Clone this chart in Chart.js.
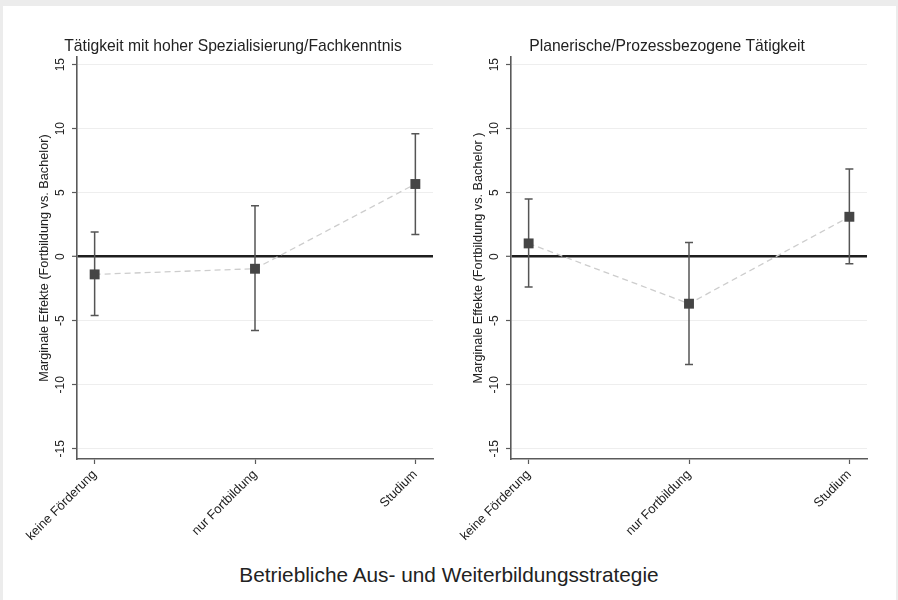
<!DOCTYPE html>
<html>
<head>
<meta charset="utf-8">
<script src="https://cdn.jsdelivr.net/npm/chart.js@4.4.1/dist/chart.umd.min.js"></script>
<style>
  html, body { margin:0; padding:0; background:#ececec; width:898px; height:600px; overflow:hidden; }
  #sheet { position:absolute; left:3px; top:6px; width:893px; height:594px; background:#ffffff; }
  canvas { position:absolute; top:0; }
  #c1 { left:0; }
  #c2 { left:434px; }
  #xtitle { position:absolute; left:0; width:898px; top:563px; text-align:center;
            font-family:"Liberation Sans", Arial, sans-serif; font-size:20.8px; color:#222; }
</style>
</head>
<body>
<div id="sheet"></div>
<canvas id="c1" width="434" height="560"></canvas>
<canvas id="c2" width="434" height="560"></canvas>
<div id="xtitle">Betriebliche Aus- und Weiterbildungsstrategie</div>
<script>
// ---- data ----
const categories = ['keine Förderung', 'nur Fortbildung', 'Studium'];
const yTicks = [-15, -10, -5, 0, 5, 10, 15];

const titleLeft = 'Tätigkeit mit hoher Spezialisierung/Fachkenntnis';
const estLeft = [-1.38, -0.94, 5.68];
const loLeft  = [-4.60, -5.76, 1.74];
const hiLeft  = [1.93, 3.98, 9.60];
const yTitleLeft = 'Marginale Effekte (Fortbildung vs. Bachelor)';

const titleRight = 'Planerische/Prozessbezogene Tätigkeit';
const estRight = [1.04, -3.67, 3.12];
const loRight  = [-2.37, -8.41, -0.55];
const hiRight  = [4.50, 1.12, 6.85];
const yTitleRight = 'Marginale Effekte (Fortbildung vs. Bachelor )';

const FONT = '"Liberation Sans", Arial, sans-serif';
const AXIS = '#5a5a5a';
const TXT = '#222222';

function makePanel(canvasId, title, yTitle, est, lo, hi) {
  const panelPlugin = {
    id: 'panel_' + canvasId,
    beforeDatasetsDraw(chart) {
      const ctx = chart.ctx, xs = chart.scales.x, ys = chart.scales.y;
      ctx.save();
      ctx.strokeStyle = '#555555';
      ctx.lineWidth = 1.5;
      for (let i = 0; i < est.length; i++) {
        const x = xs.getPixelForValue(i);
        const yl = ys.getPixelForValue(lo[i]);
        const yh = ys.getPixelForValue(hi[i]);
        ctx.beginPath();
        ctx.moveTo(x, yl); ctx.lineTo(x, yh);
        ctx.moveTo(x - 4, yl); ctx.lineTo(x + 4, yl);
        ctx.moveTo(x - 4, yh); ctx.lineTo(x + 4, yh);
        ctx.stroke();
      }
      ctx.restore();
    },
    afterDraw(chart) {
      const ctx = chart.ctx, ys = chart.scales.y, ca = chart.chartArea;
      ctx.save();
      ctx.fillStyle = TXT;
      ctx.font = '12px ' + FONT;
      ctx.textAlign = 'center';
      ctx.textBaseline = 'middle';
      yTicks.forEach(v => {
        const y = ys.getPixelForValue(v);
        ctx.save();
        ctx.translate(ca.left - 16, y);
        ctx.rotate(-Math.PI / 2);
        ctx.fillText(String(v), 0, 0);
        ctx.restore();
      });
      ctx.save();
      ctx.font = '12.7px ' + FONT;
      ctx.translate(ca.left - 33, (ca.top + ca.bottom) / 2);
      ctx.rotate(-Math.PI / 2);
      ctx.fillText(yTitle, 0, 0);
      ctx.restore();
      ctx.font = '15.7px ' + FONT;
      ctx.textBaseline = 'alphabetic';
      ctx.fillText(title, (ca.left + ca.right) / 2 - 22, ca.top - 6);
      ctx.restore();
    }
  };

  return new Chart(document.getElementById(canvasId), {
    type: 'line',
    data: {
      datasets: [{
        data: est.map((v, i) => ({ x: i, y: v })),
        borderColor: '#cdcdcd',
        borderWidth: 1.3,
        borderDash: [6, 4],
        pointStyle: 'rect',
        pointRadius: 7,
        pointBackgroundColor: '#454545',
        pointBorderColor: '#454545',
        pointBorderWidth: 0,
        tension: 0
      }]
    },
    options: {
      responsive: false,
      devicePixelRatio: 1,
      animation: false,
      layout: { autoPadding: false, padding: { top: 57, right: 1, left: 0, bottom: 0 } },
      plugins: { legend: { display: false }, tooltip: { enabled: false }, title: { display: false } },
      scales: {
        x: {
          type: 'linear',
          min: -0.11,
          max: 2.11,
          afterBuildTicks(scale) { scale.ticks = categories.map((c, i) => ({ value: i })); },
          afterFit(scale) { scale.height = 101; scale.paddingLeft = 0; scale.paddingRight = 0; },
          ticks: {
            callback: (v) => categories[v],
            minRotation: 45,
            maxRotation: 45,
            autoSkip: false,
            padding: 3,
            color: TXT,
            font: { family: FONT, size: 12.8 }
          },
          grid: { drawOnChartArea: false, drawTicks: true, tickLength: 5, tickColor: AXIS, tickWidth: 1.2 },
          border: { display: true, color: AXIS, width: 1.6 }
        },
        y: {
          type: 'linear',
          min: -15.8,
          max: 15.6,
          afterBuildTicks(scale) { scale.ticks = yTicks.map(v => ({ value: v })); },
          afterFit(scale) { scale.width = 77; scale.paddingTop = 0; scale.paddingBottom = 0; },
          ticks: { display: false },
          grid: {
            drawTicks: true,
            tickLength: 5,
            tickColor: AXIS,
            tickWidth: 1.2,
            color: (c) => (c.tick && c.tick.value === 0) ? '#1e1e1e' : '#eeeeee',
            lineWidth: (c) => (c.tick && c.tick.value === 0) ? 2.6 : 1
          },
          border: { display: true, color: AXIS, width: 1.6 }
        }
      }
    },
    plugins: [panelPlugin]
  });
}

makePanel('c1', titleLeft, yTitleLeft, estLeft, loLeft, hiLeft);
makePanel('c2', titleRight, yTitleRight, estRight, loRight, hiRight);
</script>
</body>
</html>
